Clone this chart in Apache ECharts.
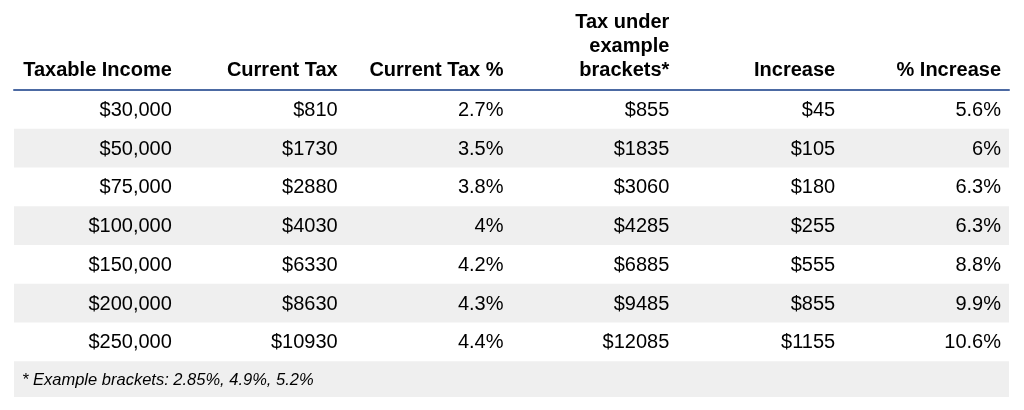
<!DOCTYPE html>
<html>
<head>
<meta charset="utf-8">
<script src="https://cdn.jsdelivr.net/npm/echarts@6/dist/echarts.min.js"></script>
<style>
  html, body { margin: 0; padding: 0; background: #fff; }
  #main { width: 1024px; height: 410px; }
</style>
</head>
<body>
<div id="main"></div>
<script>
var headers = ['Taxable Income', 'Current Tax', 'Current Tax %', 'Tax under\nexample\nbrackets*', 'Increase', '% Increase'];
var income = ['$30,000', '$50,000', '$75,000', '$100,000', '$150,000', '$200,000', '$250,000'];
var currentTax = ['$810', '$1730', '$2880', '$4030', '$6330', '$8630', '$10930'];
var currentPct = ['2.7%', '3.5%', '3.8%', '4%', '4.2%', '4.3%', '4.4%'];
var exampleTax = ['$855', '$1835', '$3060', '$4285', '$6885', '$9485', '$12085'];
var increase = ['$45', '$105', '$180', '$255', '$555', '$855', '$1155'];
var increasePct = ['5.6%', '6%', '6.3%', '6.3%', '8.8%', '9.9%', '10.6%'];
var footnote = '* Example brackets: 2.85%, 4.9%, 5.2%';

var columns = [income, currentTax, currentPct, exampleTax, increase, increasePct];
var rowNames = income.concat(['note']);

// cell data: [column index, row index, text]
var cells = [];
columns.forEach(function (col, c) {
    col.forEach(function (txt, r) {
        cells.push([c, r, txt]);
    });
});
cells.push([0, income.length, footnote, 'note']);

// shaded rows: every second data row and the footnote
var bands = [];
rowNames.forEach(function (n, r) {
    if (r % 2 === 1 || n === 'note') bands.push([0, r, n]);
});

var font = 'Helvetica, Arial, "Liberation Sans", sans-serif';
var chart = echarts.init(document.getElementById('main'));

chart.setOption({
    animation: false,
    grid: {left: 14, right: 15, top: 90, bottom: 10},
    xAxis: {
        type: 'value', min: 0, max: 6, interval: 1, position: 'top',
        axisLine: {show: true, onZero: false, lineStyle: {color: '#4c6aa3', width: 2}},
        axisTick: {show: false},
        splitLine: {show: false},
        axisLabel: {
            show: true, margin: 8,
            align: 'right', verticalAlign: 'bottom',
            padding: [0, 8, 0, 0],
            fontFamily: font, fontSize: 20, fontWeight: 'bold', color: '#000', lineHeight: 24,
            formatter: function (v) { return v >= 1 ? headers[v - 1] : ''; }
        }
    },
    yAxis: {
        type: 'category', inverse: true, data: rowNames, show: false
    },
    series: [{
        type: 'custom',
        data: bands,
        silent: true,
        renderItem: function (params, api) {
            var r = api.value(1);
            var p0 = api.coord([0, r]);
            var p1 = api.coord([6, r]);
            var h = api.size([0, 1])[1];
            var isNote = bands[params.dataIndex][2] === 'note';
            return {
                type: 'rect',
                shape: {x: p0[0], y: p0[1] - h / 2, width: p1[0] - p0[0], height: isNote ? h - 3 : h},
                style: {fill: '#efefef'}
            };
        }
    }, {
        type: 'custom',
        data: cells,
        silent: true,
        renderItem: function (params, api) {
            var item = cells[params.dataIndex];
            if (item[3] === 'note') {
                var pl = api.coord([0, item[1]]);
                return {
                    type: 'text',
                    style: {
                        x: pl[0] + 8, y: pl[1], text: item[2],
                        align: 'left', verticalAlign: 'middle',
                        font: 'italic 16.5px ' + font, fill: '#000'
                    }
                };
            }
            var p = api.coord([item[0] + 1, item[1]]);
            return {
                type: 'text',
                style: {
                    x: p[0] - 8, y: p[1] + 1, text: item[2],
                    align: 'right', verticalAlign: 'middle',
                    font: '20px ' + font, fill: '#000'
                }
            };
        }
    }]
});
</script>
</body>
</html>
